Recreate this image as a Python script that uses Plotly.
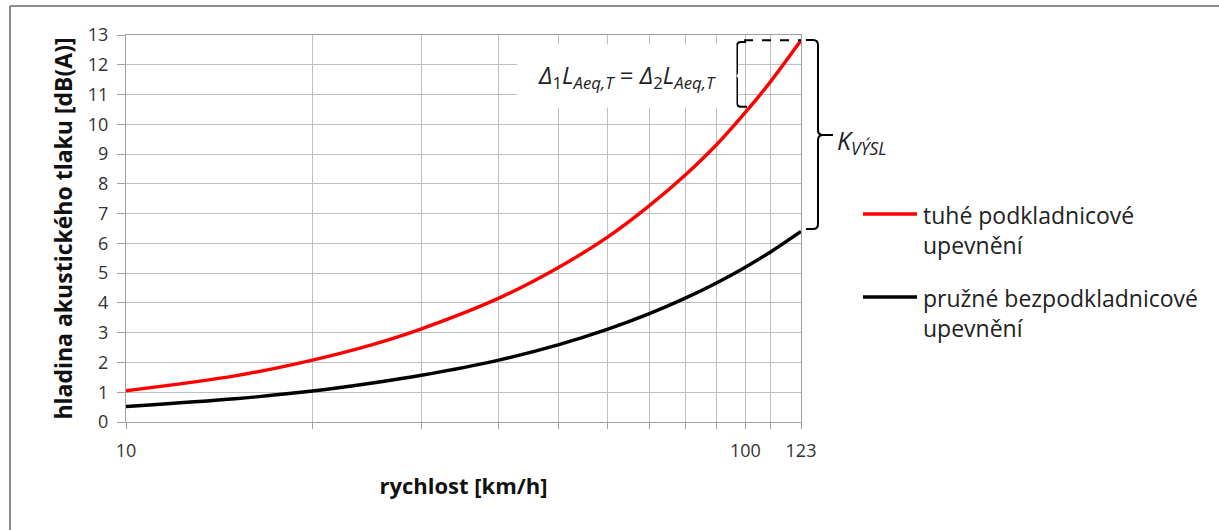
import plotly.graph_objects as go

# Speed samples [km/h] and noise-level increments [dB(A)]
rychlost = [10, 15, 20, 25, 30, 40, 50, 60, 70, 80, 90, 100, 110, 123]
tuhe = [1.05, 1.55, 2.08, 2.6, 3.13, 4.16, 5.2, 6.22, 7.27, 8.3, 9.33, 10.4, 11.45, 12.82]
pruzne = [0.52, 0.78, 1.04, 1.31, 1.57, 2.08, 2.6, 3.12, 3.64, 4.16, 4.68, 5.2, 5.72, 6.4]

x_tickvals = [10, 20, 30, 40, 50, 60, 70, 80, 90, 100, 110, 123]
x_ticktext = ["10", "", "", "", "", "", "", "", "", "100", "", "123"]

names = ["tuhé podkladnicové<br>upevnění", "pružné bezpodkladnicové<br>upevnění"]
colors = ["#FF0000", "#000000"]

W, H = 1219, 530
PL, PR, PT, PB = 126, 801, 35, 422  # plot area in pixels


def px(x):
    return (x - PL) / (PR - PL)


def py(y):
    return (PB - y) / (PB - PT)


FONT = "Open Sans"

fig = go.Figure()
for ys, name, col in zip([tuhe, pruzne], names, colors):
    fig.add_trace(go.Scatter(
        x=rychlost, y=ys, mode="lines", name=name,
        line=dict(color=col, width=3.4, shape="spline", smoothing=0.8),
        showlegend=False,
    ))

shapes = []
annotations = []

# outer chart frame (left and top edges visible)
shapes.append(dict(type="line", xref="paper", yref="paper",
                   x0=px(10), x1=px(10), y0=py(6), y1=py(H + 20),
                   line=dict(color="#8C8C8C", width=2)))
shapes.append(dict(type="line", xref="paper", yref="paper",
                   x0=px(10), x1=px(W + 20), y0=py(6), y1=py(6),
                   line=dict(color="#8C8C8C", width=2)))

# manual legend
leg_y = [214, 297]
for (name, col, yy) in zip(names, colors, leg_y):
    shapes.append(dict(type="line", xref="paper", yref="paper",
                       x0=px(863), x1=px(917), y0=py(yy), y1=py(yy),
                       line=dict(color=col, width=3.5)))
    annotations.append(dict(xref="paper", yref="paper", x=px(921), y=py(yy - 17),
                            xanchor="left", yanchor="top", align="left",
                            text=name, showarrow=False,
                            font=dict(family=FONT, size=23, color="#222222")))


def path_px(pts_cmds):
    out = []
    for c in pts_cmds:
        if isinstance(c, str):
            out.append(c)
        else:
            out.append(f"{px(c[0]):.5f},{py(c[1]):.5f}")
    return " ".join(out)


# dashed line at the top of the red curve
shapes.append(dict(type="line", xref="paper", yref="y",
                   x0=px(744), x1=px(801), y0=tuhe[-1], y1=tuhe[-1],
                   line=dict(color="#000000", width=2, dash="dash")))

# small left brace
small_brace = path_px([
    "M", (746, 42), "L", (741, 42), "Q", (737, 42), (737, 46),
    "L", (737, 72), "Q", (737, 75.7), (733, 75.7), "L", (722, 75.7),
    "M", (733, 75.7), "Q", (737, 75.7), (737, 79.5),
    "L", (737, 103), "Q", (737, 106.7), (741, 106.7), "L", (747, 106.7),
])
shapes.append(dict(type="path", xref="paper", yref="paper", path=small_brace,
                   line=dict(color="#000000", width=2)))

# large right brace
big_brace = path_px([
    "M", (806, 40), "L", (813, 40), "Q", (818, 40), (818, 45),
    "L", (818, 130), "Q", (818, 135), (823, 135), "L", (833, 135),
    "M", (823, 135), "Q", (818, 135), (818, 140),
    "L", (818, 224), "Q", (818, 229), (813, 229), "L", (806, 229),
])
shapes.append(dict(type="path", xref="paper", yref="paper", path=big_brace,
                   line=dict(color="#000000", width=2)))

# equation label on a white box
annotations.append(dict(
    xref="paper", yref="paper", x=px(627), y=py(76),
    xanchor="center", yanchor="middle",
    text="<i>Δ</i><sub>1</sub><i>L<sub>Aeq,T</sub></i> = <i>Δ</i><sub>2</sub><i>L<sub>Aeq,T</sub></i>",
    showarrow=False, bgcolor="#FFFFFF", width=218, height=62, borderpad=0,
    align="center",
    font=dict(family=FONT, size=24, color="#222222")))

annotations.append(dict(
    xref="paper", yref="paper", x=px(835), y=py(141),
    xanchor="left", yanchor="middle",
    text="<i>K<sub>VÝSL</sub></i>", showarrow=False,
    font=dict(family=FONT, size=25, color="#222222")))

fig.update_layout(
    width=W, height=H,
    margin=dict(l=PL, r=W - PR, t=PT, b=H - PB, autoexpand=False),
    paper_bgcolor="#FFFFFF", plot_bgcolor="#FFFFFF",
    font=dict(family=FONT, color="#333333"),
    shapes=shapes, annotations=annotations,
    xaxis=dict(
        type="log", range=[1, 2.089905111], tickvals=x_tickvals, ticktext=x_ticktext,
        showgrid=True, gridcolor="#BFBFBF", gridwidth=1,
        showline=True, linecolor="#A0A0A0", linewidth=1, mirror=True,
        ticks="outside", ticklen=6, tickcolor="#A0A0A0",
        tickfont=dict(family=FONT, size=18, color="#333333"),
        ticklabelstandoff=6,
        title=dict(text="<b>rychlost [km/h]</b>", standoff=18,
                   font=dict(family=FONT, size=22, color="#111111")),
        zeroline=False,
    ),
    yaxis=dict(
        range=[0, 13], dtick=1, tick0=0,
        showgrid=True, gridcolor="#BFBFBF", gridwidth=1,
        showline=True, linecolor="#A0A0A0", linewidth=1, mirror=True,
        ticks="outside", ticklen=8, tickcolor="#A0A0A0",
        tickfont=dict(family=FONT, size=18, color="#333333"),
        ticklabelstandoff=5,
        title=dict(text="<b>hladina akustického tlaku [dB(A)]</b>", standoff=8,
                   font=dict(family=FONT, size=23, color="#111111")),
        zeroline=False,
    ),
)

fig.write_html("out.html")
